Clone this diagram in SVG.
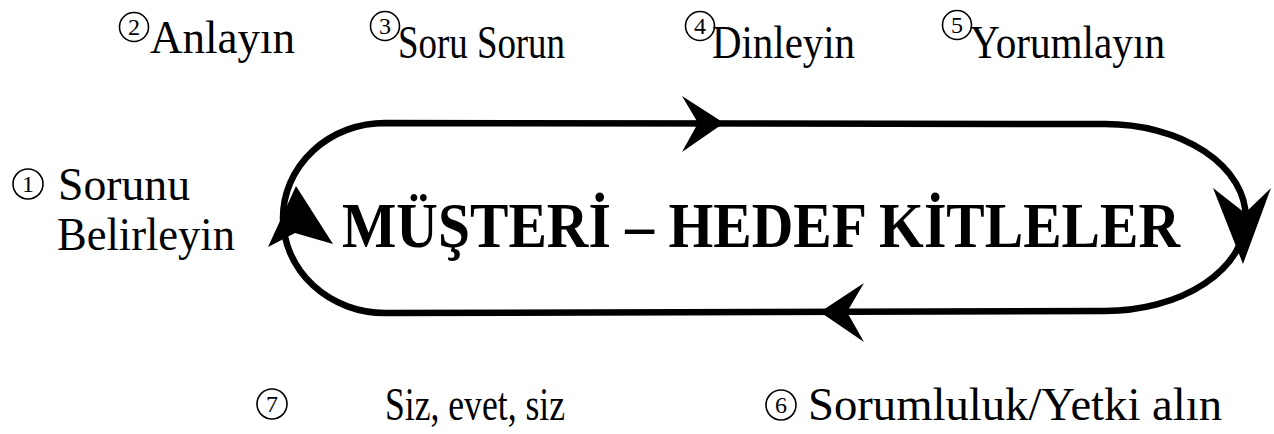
<svg xmlns="http://www.w3.org/2000/svg" width="1274" height="434" viewBox="0 0 1274 434">
<style>
.lbl{font-family:"Liberation Serif","Times New Roman",serif;font-size:46px;fill:#000}
.num{font-family:"Liberation Serif","Times New Roman",serif;font-size:24px;fill:#000;text-anchor:middle}
.circ{fill:none;stroke:#000;stroke-width:1.6}
.title{font-family:"Liberation Serif","Times New Roman",serif;font-size:63px;font-weight:bold;fill:#000;text-anchor:middle}
.loop{fill:none;stroke:#000;stroke-width:6.5}
.head{fill:#000;stroke:none}
</style>
<rect width="1274" height="434" fill="#fff"/>
<g id="connectors">
<path class="loop" d="M385,123 L1105,124 A140,93 0 0 1 1105,311 L385,313 A102,95 0 0 1 385,123 Z"/>
<polygon class="head" points="724,123 682,96 698,123 682,152"/>
<polygon class="head" points="820,312 864,283 847,312 864,342"/>
<polygon class="head" points="296,186 268,247 295,233 333,244"/>
<polygon class="head" points="1243,264 1213,188 1245,213 1271,188"/>
</g>
<g id="center">
<text class="title" x="761" y="247" textLength="838" lengthAdjust="spacingAndGlyphs">MÜŞTERİ – HEDEF KİTLELER</text>
</g>
<g id="step1">
<circle class="circ" cx="28" cy="184" r="15"/>
<text class="num" x="28" y="192">1</text>
<text class="lbl" x="58" y="200" textLength="132" lengthAdjust="spacingAndGlyphs">Sorunu</text>
<text class="lbl" x="57" y="250" textLength="178" lengthAdjust="spacingAndGlyphs">Belirleyin</text>
</g>
<g id="step2">
<circle class="circ" cx="134" cy="27" r="14.5"/>
<text class="num" x="134" y="35">2</text>
<text class="lbl" x="150" y="53" textLength="145" lengthAdjust="spacingAndGlyphs">Anlayın</text>
</g>
<g id="step3">
<circle class="circ" cx="385" cy="26" r="14.5"/>
<text class="num" x="385" y="34">3</text>
<text class="lbl" x="398" y="58" textLength="167" lengthAdjust="spacingAndGlyphs">Soru Sorun</text>
</g>
<g id="step4">
<circle class="circ" cx="700" cy="26" r="14.5"/>
<text class="num" x="700" y="34">4</text>
<text class="lbl" x="712" y="58" textLength="143" lengthAdjust="spacingAndGlyphs">Dinleyin</text>
</g>
<g id="step5">
<circle class="circ" cx="957" cy="25" r="14.5"/>
<text class="num" x="957" y="33">5</text>
<text class="lbl" x="970" y="58" textLength="195" lengthAdjust="spacingAndGlyphs">Yorumlayın</text>
</g>
<g id="step6">
<circle class="circ" cx="781" cy="405" r="15"/>
<text class="num" x="781" y="413">6</text>
<text class="lbl" x="808" y="420" textLength="414" lengthAdjust="spacingAndGlyphs">Sorumluluk/Yetki alın</text>
</g>
<g id="step7">
<circle class="circ" cx="272" cy="404" r="15"/>
<text class="num" x="272" y="412">7</text>
<text class="lbl" x="385" y="420" textLength="180" lengthAdjust="spacingAndGlyphs">Siz, evet, siz</text>
</g>
</svg>
